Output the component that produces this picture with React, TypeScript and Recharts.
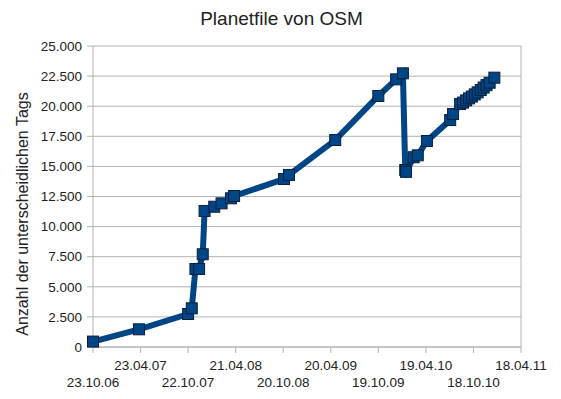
import React from "react";
import { LineChart, Line, XAxis, YAxis, CartesianGrid, ReferenceLine } from "recharts";

// days since 23.10.06
const dayOffsets = [0, 176, 364, 378, 392, 406, 420, 427, 464, 492, 528, 540, 731, 750, 927, 1092, 1160, 1186, 1195, 1198, 1227, 1243, 1278, 1367, 1378, 1405, 1416, 1428, 1439, 1450, 1461, 1472, 1484, 1495, 1506, 1518, 1536];
const tagCounts = [450, 1470, 2740, 3210, 6480, 6480, 7700, 11300, 11650, 11930, 12350, 12540, 13950, 14290, 17190, 20850, 22230, 22730, 14700, 14550, 15760, 15920, 17110, 18850, 19350, 20180, 20300, 20480, 20650, 20800, 20980, 21150, 21350, 21550, 21750, 21950, 22370];

const xTickDays = [0, 182, 364, 546, 728, 910, 1092, 1274, 1456, 1638];
const xTickLabels = ["23.10.06", "23.04.07", "22.10.07", "21.04.08", "20.10.08", "20.04.09", "19.10.09", "19.04.10", "18.10.10", "18.04.11"];
const yTicks = [0, 2500, 5000, 7500, 10000, 12500, 15000, 17500, 20000, 22500, 25000];

const title = "Planetfile von OSM";
const yLabel = "Anzahl der unterscheidlichen Tags";

const data = dayOffsets.map((d, i) => ({ day: d, tags: tagCounts[i] }));

const FONT = "'Liberation Sans', Arial, sans-serif";
const BLUE = "#004586";
const GRID = "#b3b3b3";

const fmt = (v: number) => {
  const s = String(Math.round(v));
  return s.replace(/\B(?=(\d{3})+(?!\d))/g, ".");
};

const XTick = (props: any) => {
  const { x, y, payload } = props;
  const idx = xTickDays.indexOf(payload.value);
  const label = idx >= 0 ? xTickLabels[idx] : "";
  const dy = idx % 2 === 0 ? 32 : 15;
  return (
    <text x={x} y={y + dy} textAnchor="middle" fontSize={13.5} fontFamily={FONT} fill="#222">
      {label}
    </text>
  );
};

const SquareDot = (props: any) => {
  const { cx, cy } = props;
  if (cx == null || cy == null) return null;
  const s = 11;
  return <rect x={cx - s / 2} y={cy - s / 2} width={s} height={s} fill={BLUE} stroke="#0b1f3a" strokeWidth={1} />;
};

export default function App() {
  return (
    <div style={{ position: "absolute", left: 0, top: 0, width: 561, height: 399, background: "#fff" }}>
      <LineChart width={561} height={399} data={data} margin={{ top: 46, right: 40, bottom: 0, left: 0 }}>
        <CartesianGrid vertical={false} stroke={GRID} strokeDasharray="" />
        <XAxis
          type="number"
          dataKey="day"
          domain={[0, 1638]}
          ticks={xTickDays}
          interval={0}
          height={52}
          tickSize={6}
          tickMargin={2}
          tick={<XTick />}
          stroke={GRID}
          tickLine={{ stroke: GRID }}
        />
        <YAxis
          type="number"
          domain={[0, 25000]}
          ticks={yTicks}
          interval={0}
          width={93}
          tickSize={6}
          tickMargin={5}
          tickFormatter={fmt}
          tick={{ fontSize: 13.5, fontFamily: FONT, fill: "#222" }}
          stroke={GRID}
          tickLine={{ stroke: GRID }}
        />
        <ReferenceLine x={1638} stroke={GRID} />
        <Line
          type="linear"
          dataKey="tags"
          stroke={BLUE}
          strokeWidth={6}
          dot={<SquareDot />}
          activeDot={false}
          isAnimationActive={false}
        />
      </LineChart>
      <div
        style={{
          position: "absolute",
          left: 0,
          width: 563,
          top: 8,
          textAlign: "center",
          fontFamily: FONT,
          fontSize: 19,
          color: "#222",
          whiteSpace: "nowrap",
        }}
      >
        {title}
      </div>
      <div
        style={{
          position: "absolute",
          left: 23,
          top: 214,
          transform: "translate(-50%, -50%) rotate(-90deg)",
          fontFamily: FONT,
          fontSize: 16,
          color: "#222",
          whiteSpace: "nowrap",
        }}
      >
        {yLabel}
      </div>
    </div>
  );
}
